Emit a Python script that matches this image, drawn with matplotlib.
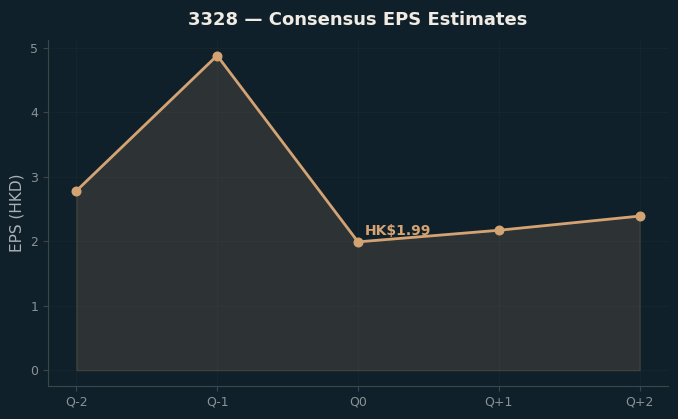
import numpy as np
import matplotlib.pyplot as plt

### data
quarters = ["Q-2", "Q-1", "Q0", "Q+1", "Q+2"]
eps = [2.78, 4.88, 1.99, 2.17, 2.39]
current_label = "HK$1.99"

bg = "#10202a"
line_col = "#d4a373"

fig = plt.figure(figsize=(6.78, 4.19), dpi=100, facecolor=bg)
ax = fig.add_axes([0.071, 0.079, 0.914, 0.826], facecolor=bg)

x = np.arange(len(quarters))
ax.fill_between(x, eps, 0, color=line_col, alpha=0.15, zorder=2)
ax.plot(x, eps, color=line_col, lw=2, marker="o", ms=6.2, zorder=3)

# label the current quarter
i0 = quarters.index("Q0")
ax.annotate(current_label, (x[i0], eps[i0]), xytext=(5, 3), textcoords="offset points",
            color=line_col, fontsize=10, fontweight="bold", ha="left", va="bottom")

ax.set_xticks(x)
ax.set_xticklabels(quarters)
ax.set_ylabel("EPS (HKD)", color="#a9b1b5", fontsize=11)
ax.set_title("3328 — Consensus EPS Estimates", color="#f0ece4", fontsize=13,
             fontweight="bold", pad=11)

ax.grid(True, color="#17262d", lw=0.6, zorder=0)
ax.set_axisbelow(True)
for s in ["top", "right"]:
    ax.spines[s].set_visible(False)
for s in ["left", "bottom"]:
    ax.spines[s].set_color("#3c474b")
ax.tick_params(colors="#3c474b", labelcolor="#8a9296", labelsize=9)

fig.savefig("out.png", dpi=100, facecolor=bg)
